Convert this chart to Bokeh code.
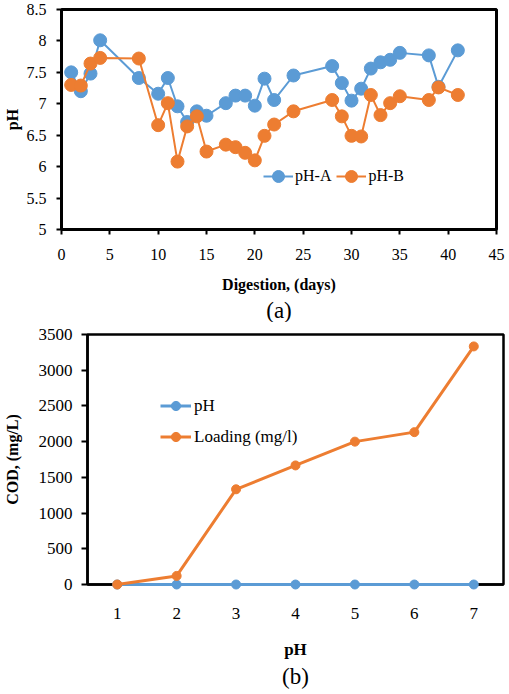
from bokeh.plotting import figure
from bokeh.models import (FixedTicker, NumeralTickFormatter, Legend, LegendItem,
                          Title, Range1d)
from bokeh.embed import file_html
from bokeh.resources import INLINE

# ---------------- data (a) ----------------
days = [1, 2, 3, 4, 8, 10, 11, 12, 13, 14, 15, 17, 18, 19, 20, 21, 22, 24,
        28, 29, 30, 31, 32, 33, 34, 35, 38, 39, 41]
ph_a = [7.50, 7.20, 7.48, 8.01, 7.41, 7.16, 7.41, 6.96, 6.71, 6.88, 6.81, 7.01,
        7.13, 7.13, 6.97, 7.40, 7.06, 7.45, 7.60, 7.33, 7.05, 7.24, 7.56, 7.66,
        7.70, 7.81, 7.77, 7.27, 7.85]
ph_b = [7.30, 7.29, 7.64, 7.73, 7.72, 6.66, 7.01, 6.08, 6.64, 6.80, 6.24, 6.35,
        6.31, 6.22, 6.10, 6.49, 6.67, 6.88, 7.06, 6.80, 6.49, 6.48, 7.14, 6.82,
        7.01, 7.12, 7.06, 7.26, 7.14]
xticks_a = [0, 5, 10, 15, 20, 25, 30, 35, 40, 45]
yticks_a = [5, 5.5, 6, 6.5, 7, 7.5, 8, 8.5]

# ---------------- data (b) ----------------
ph_cat = [1, 2, 3, 4, 5, 6, 7]
ph_series = [0, 0, 0, 0, 0, 0, 0]
loading = [0, 120, 1333, 1667, 2000, 2133, 3333]
yticks_b = [0, 500, 1000, 1500, 2000, 2500, 3000, 3500]

BLUE = "#5B9BD5"
ORANGE = "#ED7D31"
FONT = "'Liberation Serif', 'Times New Roman', serif"


def style_axis(ax, tick_out, label_standoff, axis_label_standoff, width):
    ax.axis_line_color = "black"
    ax.axis_line_width = width
    ax.major_tick_line_color = "black" if tick_out > 0 else None
    ax.major_tick_line_width = 2
    ax.major_tick_in = 0
    ax.major_tick_out = tick_out
    ax.minor_tick_line_color = None
    ax.major_label_text_font = FONT
    ax.major_label_text_font_size = "16px"
    ax.major_label_text_color = "black"
    ax.major_label_standoff = label_standoff
    ax.axis_label_text_font = FONT
    ax.axis_label_text_font_style = "bold"
    ax.axis_label_text_font_size = "16px"
    ax.axis_label_text_color = "black"
    ax.axis_label_standoff = axis_label_standoff


# ================= figure (a) =================
pa = figure(width=509, height=322, x_range=Range1d(0, 45), y_range=Range1d(5, 8.5),
            output_backend="svg", toolbar_location=None,
            min_border_left=58, min_border_right=13, min_border_top=9,
            min_border_bottom=92)
pa.xgrid.visible = False
pa.ygrid.visible = False
pa.outline_line_color = "black"
pa.outline_line_width = 3
pa.outline_line_alpha = 1

ra1 = pa.line(days, ph_a, line_color=BLUE, line_width=2)
ra2 = pa.scatter(days, ph_a, size=13, fill_color=BLUE, line_color=BLUE)
rb1 = pa.line(days, ph_b, line_color=ORANGE, line_width=2)
rb2 = pa.scatter(days, ph_b, size=13, fill_color=ORANGE, line_color=ORANGE)

pa.xaxis.ticker = FixedTicker(ticks=xticks_a)
pa.yaxis.ticker = FixedTicker(ticks=yticks_a)
pa.yaxis.formatter = NumeralTickFormatter(format="0.[0]")
pa.xaxis.axis_label = "Digestion, (days)"
pa.yaxis.axis_label = "pH"
style_axis(pa.xaxis[0], 5, 14, 13, 3)
style_axis(pa.yaxis[0], 5, 10, 3, 3)

leg_a = Legend(items=[LegendItem(label="pH-A", renderers=[ra1, ra2]),
                      LegendItem(label="pH-B", renderers=[rb1, rb2])],
               location=(202, 38), orientation="horizontal", padding=0, margin=0,
               spacing=5, glyph_width=30, glyph_height=30, label_height=30,
               label_standoff=2, border_line_color=None, background_fill_alpha=0,
               label_text_font=FONT, label_text_font_size="16px",
               label_text_color="black")
pa.add_layout(leg_a)
pa.add_layout(Title(text="(a)", align="center", text_font=FONT,
                    text_font_size="23px", text_font_style="normal",
                    text_color="black", standoff=0), "below")

# ================= figure (b) =================
pb = figure(width=509, height=372, x_range=Range1d(0.5, 7.5), y_range=Range1d(0, 3500),
            output_backend="svg", toolbar_location=None,
            min_border_left=86, min_border_right=6, min_border_top=12,
            min_border_bottom=110)
pb.xgrid.visible = False
pb.ygrid.visible = False
pb.outline_line_color = "black"
pb.outline_line_width = 2.5

q1 = pb.line(ph_cat, ph_series, line_color=BLUE, line_width=3, level="overlay")
q2 = pb.scatter(ph_cat, ph_series, size=9, fill_color=BLUE, line_color=BLUE, level="overlay")
q3 = pb.line(ph_cat, loading, line_color=ORANGE, line_width=3, level="overlay")
q4 = pb.scatter(ph_cat, loading, size=9, fill_color=ORANGE, line_color=ORANGE, level="overlay")

pb.xaxis.ticker = FixedTicker(ticks=ph_cat)
pb.yaxis.ticker = FixedTicker(ticks=yticks_b)
pb.xaxis.axis_label = "pH"
pb.yaxis.axis_label = "COD, (mg/L)"
style_axis(pb.xaxis[0], 0, 23, 18, 2.5)
style_axis(pb.yaxis[0], 6, 9, 15, 2.5)
pb.xaxis[0].major_label_text_font_size = "17px"
pb.yaxis[0].major_label_text_font_size = "17px"
pb.xaxis[0].axis_label_text_font_size = "17px"

leg_b = Legend(items=[LegendItem(label="pH", renderers=[q1, q2]),
                      LegendItem(label="Loading (mg/l)", renderers=[q3, q4])],
               location=(73, 136), orientation="vertical", padding=0, margin=0,
               spacing=8, glyph_width=31, glyph_height=23, label_height=23,
               label_standoff=3, border_line_color=None, background_fill_alpha=0,
               label_text_font=FONT, label_text_font_size="17px",
               label_text_color="black")
pb.add_layout(leg_b)
pb.add_layout(Title(text="(b)", align="center", offset=-15, text_font=FONT,
                    text_font_size="23px", text_font_style="normal",
                    text_color="black", standoff=0), "below")

open("out.html", "w").write(file_html([pa, pb], INLINE))
